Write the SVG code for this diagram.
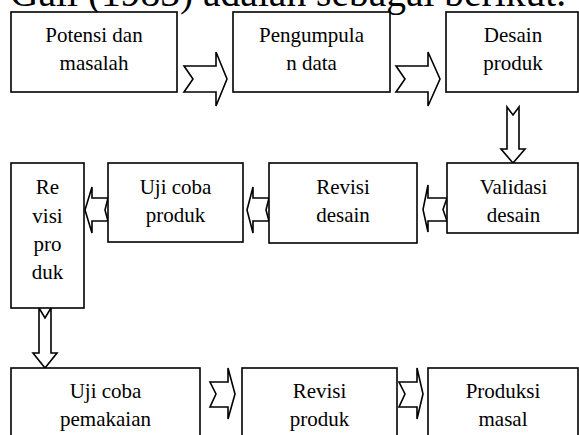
<svg xmlns="http://www.w3.org/2000/svg" width="579" height="435" viewBox="0 0 579 435">
<style>
.box{fill:#fff;stroke:#000;stroke-width:1.6}
.arr{fill:#fff;stroke:#000;stroke-width:1.6;stroke-linejoin:miter}
text{font-family:"Liberation Serif","Times New Roman",serif;font-size:21px;fill:#000;text-anchor:middle}
.title{font-size:39.5px;text-anchor:start}
</style>
<rect width="579" height="435" fill="#fff"/>
<text class="title" x="10" y="6">Gall (1983) adalah sebagai berikut.</text>
<g id="connectors">
<polygon class="arr" points="184,66 216,66 216,52 227,79 216,106 216,92 184,92 193,79"/>
<polygon class="arr" points="396,66 428,66 428,52 440,79 428,106 428,92 396,92 405,79"/>
<polygon class="arr" points="507,107 513,115 519,107 519,149 525,149 513,163 501,149 507,149"/>
<polygon class="arr" points="447,198 443,209.5 447,221 428,221 428,232 423,209.5 428,185 428,198"/>
<polygon class="arr" points="269,198 266,210 269,221 253,221 253,233 247,210 253,187 253,198"/>
<polygon class="arr" points="108,198 105,210 108,221 92,221 92,233 85,210 92,187 92,198"/>
<polygon class="arr" points="39,308 45,318 51,308 51,353 57,353 45,368 33,353 39,353"/>
<polygon class="arr" points="210,382 228,382 228,368 235,394 228,419 228,407 210,407 216,394"/>
<polygon class="arr" points="399,382 417,382 417,368 423,394 417,419 417,407 399,407 405,394"/>
</g>
<g id="potensi"><rect class="box" x="11" y="12" width="166" height="80"/><text x="94" y="42">Potensi dan</text><text x="94" y="70">masalah</text></g>
<g id="pengumpulan"><rect class="box" x="233" y="12" width="157" height="80"/><text x="311.5" y="42">Pengumpula</text><text x="311.5" y="70">n data</text></g>
<g id="desain"><rect class="box" x="446" y="12" width="132" height="80"/><text x="513" y="42">Desain</text><text x="513" y="70">produk</text></g>
<g id="validasi"><rect class="box" x="447" y="163" width="131" height="70"/><text x="513.5" y="194">Validasi</text><text x="513.5" y="222">desain</text></g>
<g id="revisi-desain"><rect class="box" x="269" y="163" width="148" height="80"/><text x="343" y="194">Revisi</text><text x="343" y="222">desain</text></g>
<g id="uji-produk"><rect class="box" x="108" y="163" width="135" height="79"/><text x="175.5" y="194">Uji coba</text><text x="175.5" y="222">produk</text></g>
<g id="revisi-produk-1"><rect class="box" x="11" y="163" width="73" height="145"/><text x="47.5" y="194">Re</text><text x="47.5" y="222.5">visi</text><text x="47.5" y="250.7">pro</text><text x="47.5" y="278.5">duk</text></g>
<g id="uji-pemakaian"><rect class="box" x="11" y="368" width="189" height="80"/><text x="105.5" y="398">Uji coba</text><text x="105.5" y="426">pemakaian</text></g>
<g id="revisi-produk-2"><rect class="box" x="242" y="368" width="155" height="80"/><text x="319.5" y="398">Revisi</text><text x="319.5" y="426">produk</text></g>
<g id="produksi"><rect class="box" x="428" y="368" width="150" height="80"/><text x="503" y="398">Produksi</text><text x="503" y="426">masal</text></g>
</svg>
